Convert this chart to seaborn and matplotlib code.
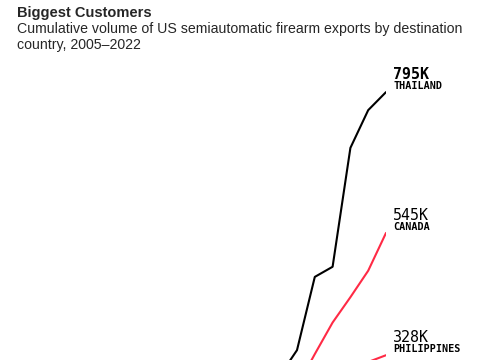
import matplotlib
matplotlib.use("Agg")
import matplotlib.pyplot as plt
import seaborn as sns
import pandas as pd

years = list(range(2005, 2023))
thailand = [10, 25, 45, 70, 95, 120, 150, 180, 210, 240, 265, 290, 337, 467, 485, 696, 763, 795]
canada = [20, 40, 60, 80, 100, 118, 136, 154, 172, 190, 210, 240, 272, 330, 386, 431, 478, 545]
philippines = [10, 25, 40, 55, 75, 95, 115, 135, 155, 175, 195, 215, 235, 255, 275, 295, 316, 328]
countries = ["THAILAND", "CANADA", "PHILIPPINES"]
value_labels = ["795K", "545K", "328K"]
colors = {"THAILAND": "#000000", "CANADA": "#ff2a45", "PHILIPPINES": "#ff2a45"}

df = pd.DataFrame({
    "year": years * 3,
    "value": thailand + canada + philippines,
    "country": ["THAILAND"] * 18 + ["CANADA"] * 18 + ["PHILIPPINES"] * 18,
})

sns.set_style("white")
plt.rcParams["font.family"] = ["Liberation Sans", "DejaVu Sans"]

fig = plt.figure(figsize=(4.85, 3.6), dpi=100)
W, H = 485, 360
x0, x1 = 83.4, 386
y_zero, y_800 = 540, 540 - 800 / 1.775
ax = fig.add_axes([x0 / W, (H - y_zero) / H, (x1 - x0) / W, (y_zero - y_800) / H])
sns.lineplot(data=df, x="year", y="value", hue="country", palette=colors,
             linewidth=1.5, legend=False, ax=ax, hue_order=countries)
ax.set_xlim(2005, 2022)
ax.set_ylim(0, 800)
ax.axis("off")

ends = [thailand[-1], canada[-1], philippines[-1]]
for c, v, lab in zip(countries, ends, value_labels):
    bold = c == "THAILAND"
    ax.annotate(lab, (years[-1], v), xytext=(7, 13), textcoords="offset pixels",
                fontsize=10.8, family=["Liberation Sans Narrow", "DejaVu Sans Mono"],
                fontweight="bold" if bold else "normal", color="#000000", va="baseline")
    ax.annotate(c, (years[-1], v), xytext=(7, 3), textcoords="offset pixels",
                fontsize=7.3, family="DejaVu Sans Mono", fontweight="bold",
                color="#000000", va="baseline")

fig.text(17 / W, 1 - 17 / H, "Biggest Customers", fontsize=10.5, fontweight="bold", va="baseline")
fig.text(17 / W, 1 - 33 / H, "Cumulative volume of US semiautomatic firearm exports by destination",
         fontsize=10.2, va="baseline")
fig.text(17 / W, 1 - 49 / H, "country, 2005\u20132022", fontsize=10.2, va="baseline")

fig.savefig("out.png", dpi=100)
